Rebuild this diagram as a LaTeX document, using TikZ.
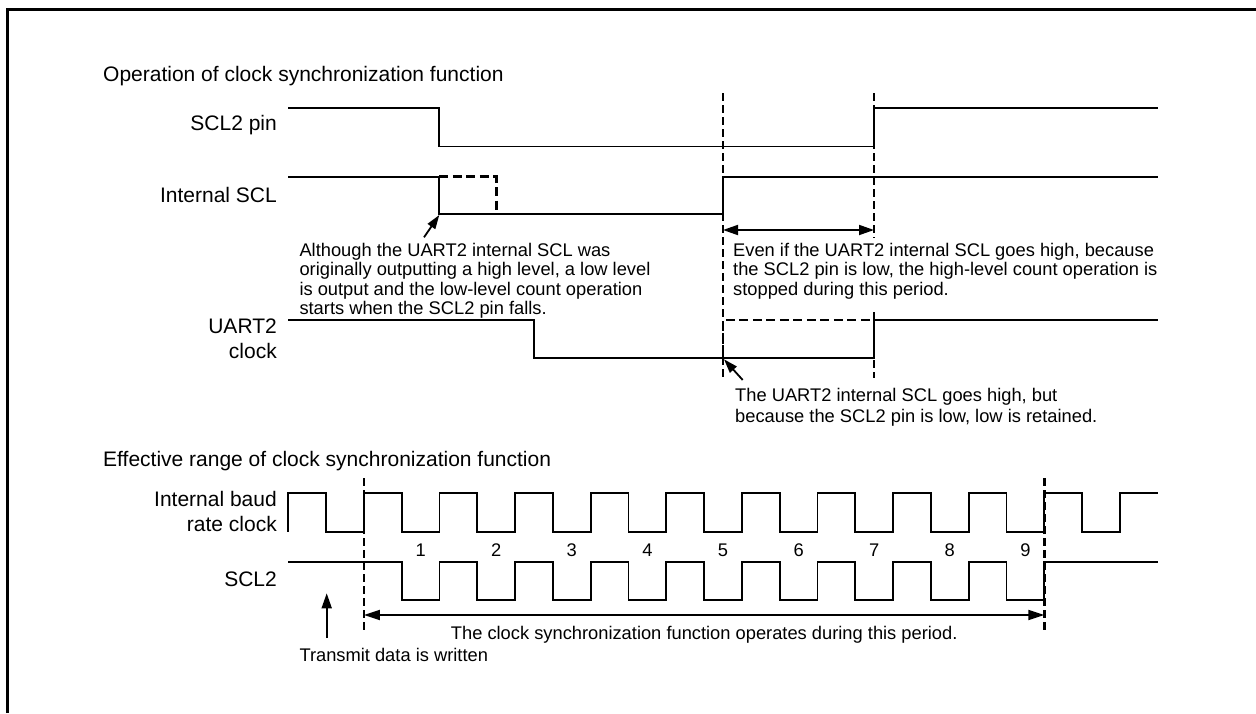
\documentclass[tikz,border=0pt]{standalone}
\usepackage{fontspec}
\setmainfont{Liberation Sans}
\usetikzlibrary{arrows.meta}
\tikzset{
  wave/.style={line width=1.8pt, line join=miter},
  guide/.style={line width=2.8pt, dash pattern=on 8pt off 4pt},
  dpulse/.style={line width=2.6pt, dash pattern=on 9pt off 4.5pt},
  lab/.style={font=\fontsize{21}{25}\selectfont, inner sep=0pt, anchor=base east},
  ttl/.style={font=\fontsize{21}{25}\selectfont, inner sep=0pt, anchor=base west},
  ann/.style={font=\fontsize{18.3}{19.5}\selectfont, inner sep=0pt, anchor=base west},
  annc/.style={font=\fontsize{18.3}{19.5}\selectfont, inner sep=0pt, anchor=base},
  tipa/.style={-{Triangle[length=14pt,width=9pt]}, line width=1.8pt},
  dbl/.style={{Triangle[length=15pt,width=10pt]}-{Triangle[length=15pt,width=10pt]}, line width=1.8pt},
}
\begin{document}
\begin{tikzpicture}[x=1pt,y=-1pt]
\useasboundingbox (0,0) rectangle (1256,713);
\draw[line width=3pt] (7.5,713) -- (7.5,9.5) -- (1260,9.5);

% ---------- top part ----------
\node[ttl] (t1) at (103,81.7) {Operation of clock synchronization function};
\node[lab] (lscl) at (277,130) {SCL2 pin};
\node[lab] (lint) at (277,202.7) {Internal SCL};
\node[lab] (luarta) at (277,333.3) {UART2};
\node[lab] (luartb) at (277,358.3) {clock};

\coordinate (ga1) at (723,93);  \coordinate (gb1) at (723,378);
\coordinate (ga2) at (874,93);  \coordinate (gb2) at (874,238);
\coordinate (ga3) at (874,312); \coordinate (gb3) at (874,378);
\draw[guide] (ga1) -- (gb1);
\draw[guide] (ga2) -- (gb2);
\draw[guide] (ga3) -- (gb3);

\draw[wave] (288,108.3) -- (439.3,108.3) -- (439.3,146.5) -- (874,146.5) -- (874,108.3) -- (1158,108.3);
\draw[wave] (288,176.7) -- (439.3,176.7) -- (439.3,214) -- (723,214) -- (723,176.7) -- (1158,176.7);
\draw[dpulse] (439.3,176.7) -- (496.5,176.7) -- (496.5,214);
\draw[wave] (288,320) -- (534,320) -- (534,357.7) -- (874,357.7) -- (874,320) -- (1158,320);
\draw[dpulse] (723,357.7) -- (723,320) -- (874,320);

\coordinate (da) at (723,230); \coordinate (db) at (874,230);
\draw[dbl] (da) -- (db);

\node[ann] (a1) at (299.3,256) {Although the UART2 internal SCL was};
\node[ann] (a2) at (299.3,275.5) {originally outputting a high level, a low level};
\node[ann] (a3) at (299.3,295) {is output and the low-level count operation};
\node[ann] (a4) at (299.3,314.5) {starts when the SCL2 pin falls.};
\coordinate (p1) at (424,237.3); \coordinate (q1) at (439.3,215);
\draw[tipa] (p1) -- (q1);

\node[ann] (b1) at (733,256) {Even if the UART2 internal SCL goes high, because};
\node[ann] (b2) at (733,275.5) {the SCL2 pin is low, the high-level count operation is};
\node[ann] (b3) at (733,295) {stopped during this period.};

\node[ann] (c1) at (735,401) {The UART2 internal SCL goes high, but};
\node[ann] (c2) at (735,422) {because the SCL2 pin is low, low is retained.};
\coordinate (p2) at (742.7,380); \coordinate (q2) at (724,359.3);
\draw[tipa] (p2) -- (q2);

% ---------- bottom part ----------
\node[ttl] (t2) at (103,466) {Effective range of clock synchronization function};
\node[lab] (lbauda) at (277,506.7) {Internal baud};
\node[lab] (lbaudb) at (277,531.7) {rate clock};
\node[lab] (lscl2) at (277,586.7) {SCL2};

\draw[wave] (288.3,531.7) -- ++(0,-38.4)
  \foreach \i in {1,...,11} { -- ++(37.8,0) -- ++(0,38.4) -- ++(37.8,0) -- ++(0,-38.4) }
  -- (1158.3,493.3);

\draw[wave] (288.3,561.7) -- (401.7,561.7) -- ++(0,38.3)
  \foreach \i in {1,...,8} { -- ++(37.8,0) -- ++(0,-38.3) -- ++(37.8,0) -- ++(0,38.3) }
  -- ++(37.8,0) -- ++(0,-38.3) -- (1158.3,561.7);

\foreach \n in {1,...,9} {
  \node[annc] (n\n) at ({288.3+(2*\n+1.5)*37.8},556) {\n};
}

\coordinate (gc1) at (363.9,478); \coordinate (gd1) at (363.9,632);
\coordinate (gc2) at (1044.3,478); \coordinate (gd2) at (1044.3,632);
\draw[guide] (gc1) -- (gd1);
\draw[guide] (gc2) -- (gd2);

\coordinate (ea) at (363.9,615); \coordinate (eb) at (1044.3,615);
\draw[{Triangle[length=16pt,width=10pt]}-{Triangle[length=16pt,width=10pt]}, line width=1.8pt] (ea) -- (eb);
\node[annc] (op) at (704.2,639) {The clock synchronization function operates during this period.};

\coordinate (wa) at (326.7,638); \coordinate (wb) at (326.7,593.3);
\draw[-{Triangle[length=15pt,width=10pt]}, line width=1.8pt] (wa) -- (wb);
\node[ann] (tw) at (299.3,661.7) {Transmit data is written};
\end{tikzpicture}
\end{document}
